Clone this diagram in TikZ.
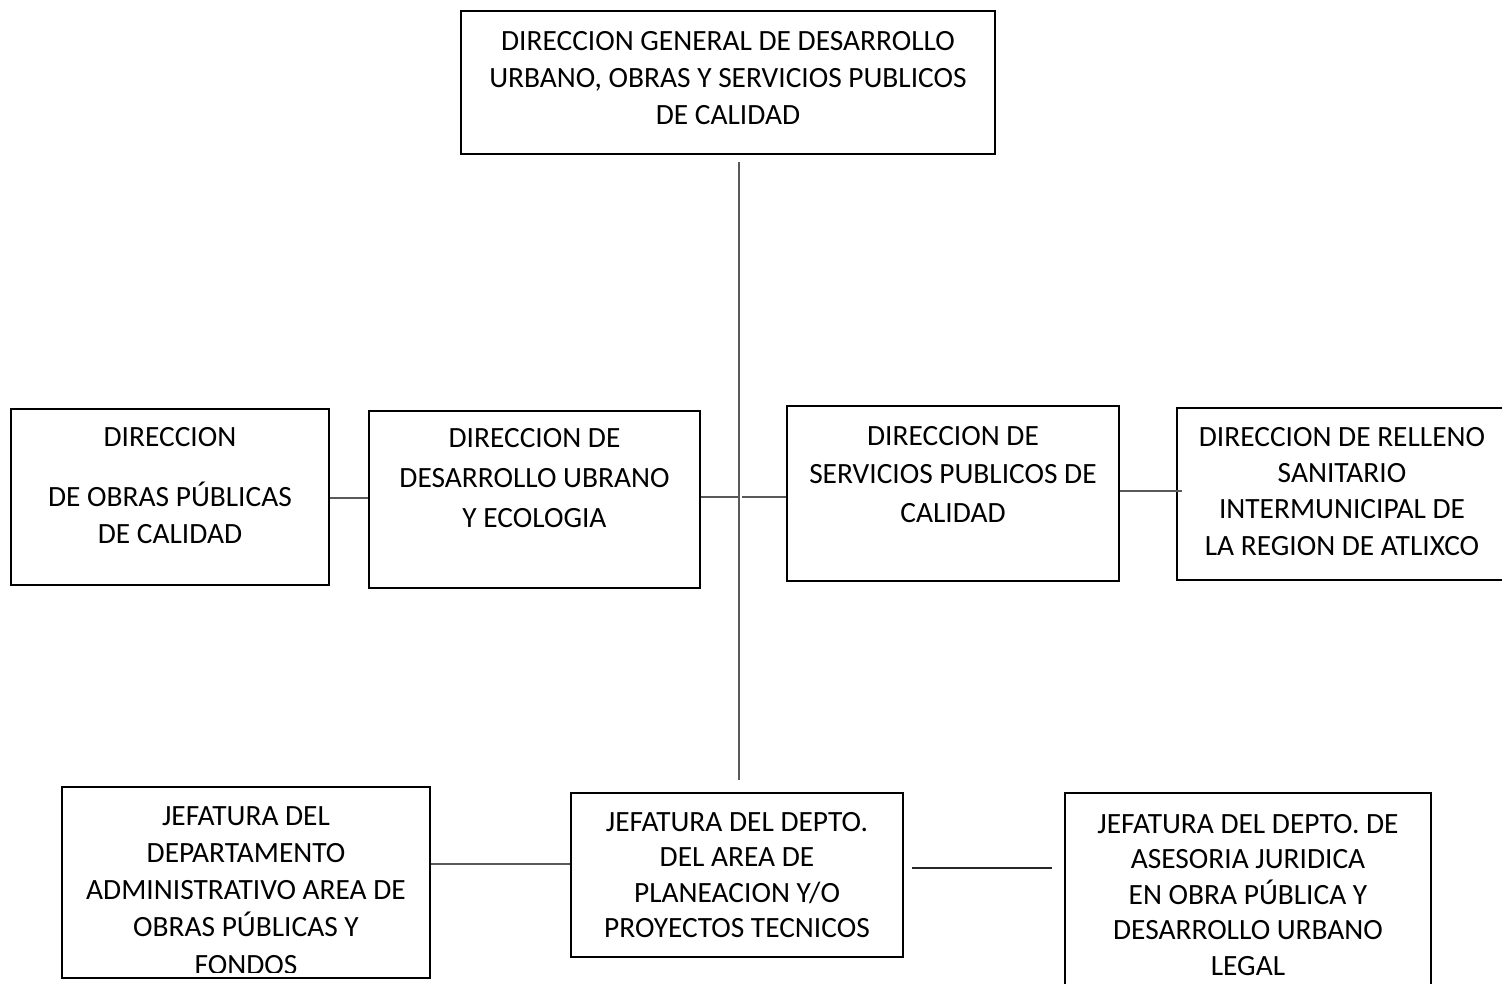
\documentclass[tikz,border=0pt]{standalone}
\usepackage{fontspec}
\setmainfont{Carlito}
\usetikzlibrary{calc}
\begin{document}
\begin{tikzpicture}[x=1pt,y=-1pt,
  box/.style={draw=black,line width=2pt,rectangle,inner sep=0pt,anchor=north west},
  txt/.style={align=center,inner sep=0pt,anchor=north,font=\fontsize{29.4}{37}\selectfont},
  conn/.style={draw=black!65,line width=1.5pt}]
\useasboundingbox (0,0) rectangle (1502,983);
\begin{scope}
\clip (0,0) rectangle (1502,983);
\node[box,minimum width=534pt,minimum height=143pt] (b1) at (460,10) {};
\node[box,minimum width=318pt,minimum height=176pt] (b2) at (10,408) {};
\node[box,minimum width=331pt,minimum height=177pt] (b3) at (368,410) {};
\node[box,minimum width=332pt,minimum height=175pt] (b4) at (786,405) {};
\node[box,minimum width=340pt,minimum height=172pt] (b5) at (1176,407) {};
\node[box,minimum width=368pt,minimum height=191pt] (b6) at (61,786) {};
\node[box,minimum width=332pt,minimum height=164pt] (b7) at (570,792) {};
\node[box,minimum width=366pt,minimum height=220pt] (b8) at (1064,792) {};

\node[txt] (t1) at ($(b1.north)+(0,21.5)$) {DIRECCION GENERAL DE DESARROLLO\\URBANO, OBRAS Y SERVICIOS PUBLICOS\\DE CALIDAD};
\node[txt] (t2) at ($(b2.north)+(0,19)$) {DIRECCION\\[23pt]DE OBRAS PÚBLICAS\\DE CALIDAD};
\node[txt,font=\fontsize{29.4}{40}\selectfont] (t3) at ($(b3.north)+(0,18)$) {DIRECCION DE\\DESARROLLO UBRANO\\Y ECOLOGIA};
\node[txt,font=\fontsize{29.4}{38.5}\selectfont] (t4) at ($(b4.north)+(0,21)$) {DIRECCION DE\\SERVICIOS PUBLICOS DE\\CALIDAD};
\node[txt,font=\fontsize{29.4}{36.3}\selectfont] (t5) at ($(b5.north west)+(166,20)$) {DIRECCION DE RELLENO\\SANITARIO\\INTERMUNICIPAL DE\\LA REGION DE ATLIXCO};
\begin{scope}
\clip ($(b6.north west)+(2,2)$) rectangle ($(b6.south east)+(-2,-7)$);
\node[txt,font=\fontsize{29.4}{37.3}\selectfont] (t6) at ($(b6.north)+(0,20)$) {JEFATURA DEL\\DEPARTAMENTO\\ADMINISTRATIVO AREA DE\\OBRAS PÚBLICAS Y\\FONDOS};
\end{scope}
\node[txt,font=\fontsize{29.4}{35.5}\selectfont] (t7) at ($(b7.north)+(0,20)$) {JEFATURA DEL DEPTO.\\DEL AREA DE\\PLANEACION Y/O\\PROYECTOS TECNICOS};
\node[txt,font=\fontsize{29.4}{35.5}\selectfont] (t8) at ($(b8.north)+(0,22)$) {JEFATURA DEL DEPTO. DE\\ASESORIA JURIDICA\\EN OBRA PÚBLICA Y\\DESARROLLO URBANO\\LEGAL};
\end{scope}

% connectors
\coordinate (vtop) at ($(b1.south)+(11,7)$);
\coordinate (vbot) at ($(b7.north)+(2,-12)$);
\draw[conn] (vtop) -- (vbot);
\coordinate (gap1) at (740,497);
\coordinate (gap2) at (742,497);
\draw[conn] (b3.east |- gap1) -- (gap1);
\draw[conn] (gap2) -- (b4.west |- gap2);
\draw[conn] (b2.east |- 0,498) -- (b3.west |- 0,498);
\coordinate (r5) at ($(b5.west)+(6,-3)$);
\draw[conn] (b4.east |- r5) -- (r5);
\draw[conn] (b6.east |- 0,864) -- (b7.west |- 0,864);
\coordinate (l8) at (1052,868);
\draw[conn,draw=black!85] ($(b7.east |- l8)+(8,0)$) -- (l8);
\end{tikzpicture}
\end{document}
